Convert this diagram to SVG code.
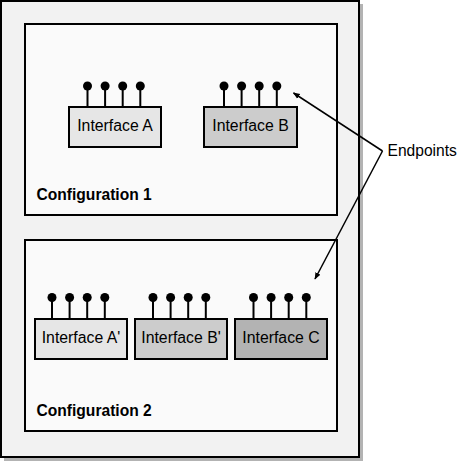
<svg xmlns="http://www.w3.org/2000/svg" width="460" height="461" viewBox="0 0 460 461">
<defs>
<style>
.box{stroke:#000;stroke-width:2}
.pin{stroke:#000;stroke-width:2}
.dot{fill:#000}
.lbl{font-family:"Liberation Sans",Arial,sans-serif;font-size:15.8px;fill:#000;text-anchor:middle}
.cfg{font-family:"Liberation Sans",Arial,sans-serif;font-size:15.6px;font-weight:bold;fill:#000}
.conn{stroke:#000;stroke-width:1.5;fill:none}
</style>
<marker id="ah" viewBox="0 0 10 10" refX="9" refY="5" markerWidth="7" markerHeight="7" markerUnits="userSpaceOnUse" orient="auto">
<path d="M0,1 L10,5 L0,9 Z" fill="#000"/>
</marker>
<g id="pins">
<line class="pin" x1="0" y1="0" x2="0" y2="21"/><circle class="dot" cx="0" cy="0" r="4.5"/>
<line class="pin" x1="17.6" y1="0" x2="17.6" y2="21"/><circle class="dot" cx="17.6" cy="0" r="4.5"/>
<line class="pin" x1="35.2" y1="0" x2="35.2" y2="21"/><circle class="dot" cx="35.2" cy="0" r="4.5"/>
<line class="pin" x1="52.8" y1="0" x2="52.8" y2="21"/><circle class="dot" cx="52.8" cy="0" r="4.5"/>
</g>
</defs>
<rect x="0" y="0" width="460" height="461" fill="#fff"/>
<g id="outer">
<rect x="4" y="4" width="359" height="457" fill="#b3b3b3"/>
<rect x="1" y="1" width="358" height="456" fill="#f2f2f2" stroke="#000" stroke-width="2"/>
</g>
<g id="config1">
<rect x="25" y="24" width="312" height="191" fill="#fafafa" stroke="#000" stroke-width="2"/>
<text class="cfg" x="36.5" y="199.5">Configuration 1</text>
</g>
<g id="config2">
<rect x="25" y="240" width="312" height="191" fill="#fafafa" stroke="#000" stroke-width="2"/>
<text class="cfg" x="36.5" y="415.5">Configuration 2</text>
</g>
<g id="interfaceA">
<use href="#pins" x="87.5" y="86"/>
<rect class="box" x="69" y="107" width="92" height="40" fill="#e6e6e6"/>
<text class="lbl" x="115" y="131">Interface A</text>
</g>
<g id="interfaceB">
<use href="#pins" x="224" y="86"/>
<rect class="box" x="204" y="107" width="93" height="40" fill="#cccccc"/>
<text class="lbl" x="250.5" y="131">Interface B</text>
</g>
<g id="interfaceA2">
<use href="#pins" x="52" y="297.5"/>
<rect class="box" x="35" y="319" width="92" height="40" fill="#e6e6e6"/>
<text class="lbl" x="81" y="343">Interface A'</text>
</g>
<g id="interfaceB2">
<use href="#pins" x="153" y="297.5"/>
<rect class="box" x="135" y="319" width="92" height="40" fill="#cccccc"/>
<text class="lbl" x="181" y="343">Interface B'</text>
</g>
<g id="interfaceC">
<use href="#pins" x="253.5" y="297.5"/>
<rect class="box" x="235" y="319" width="92" height="40" fill="#b3b3b3"/>
<text class="lbl" x="281" y="343">Interface C</text>
</g>
<g id="endpoints">
<text x="387.5" y="155.5" font-family="'Liberation Sans',Arial,sans-serif" font-size="15.6" fill="#000">Endpoints</text>
</g>
<g id="connectors">
<line class="conn" x1="382.5" y1="151" x2="293.5" y2="93" marker-end="url(#ah)"/>
<line class="conn" x1="382.5" y1="151" x2="315" y2="279" marker-end="url(#ah)"/>
</g>
</svg>
